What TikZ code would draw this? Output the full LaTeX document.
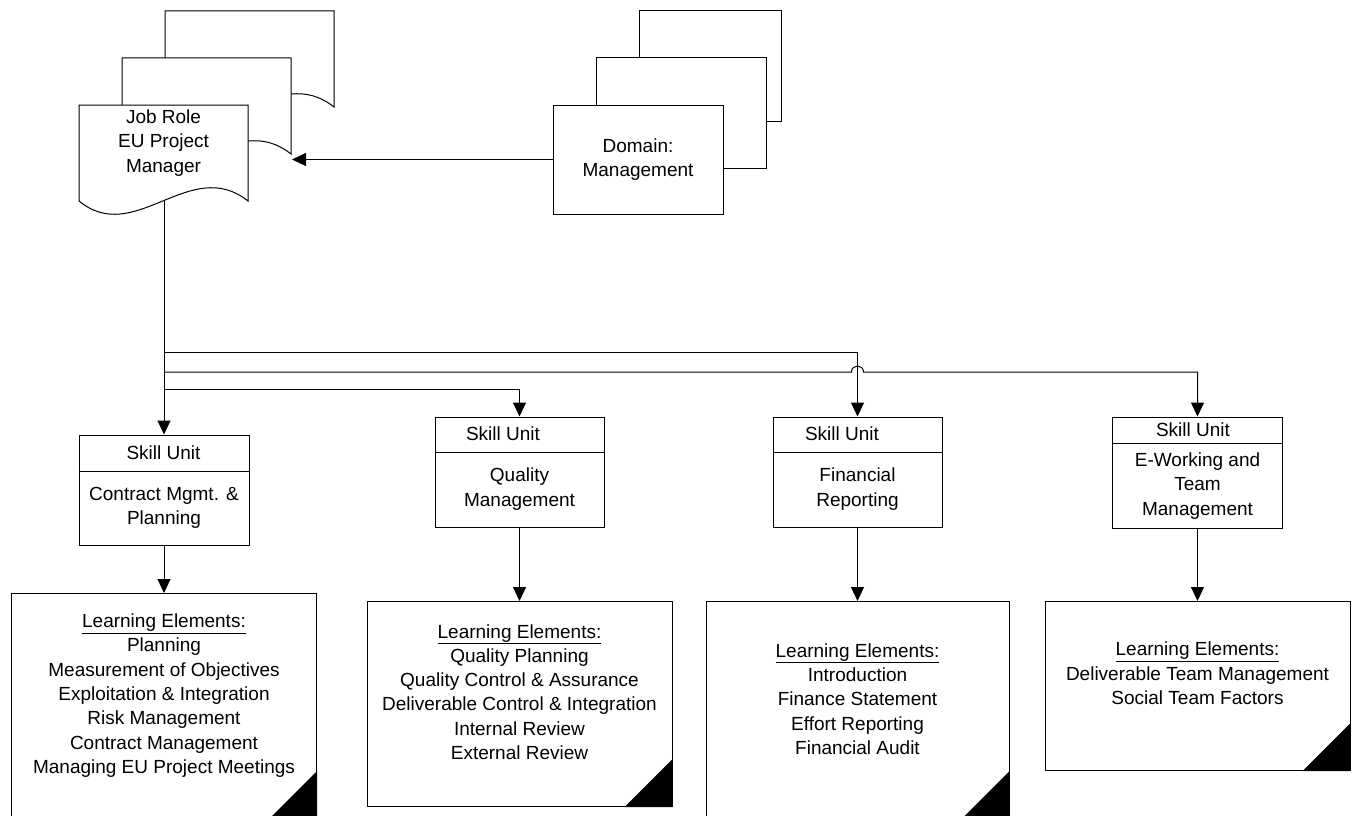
\documentclass[tikz,border=0pt]{standalone}
\usepackage{fontspec}
\setmainfont{Liberation Sans}
\usetikzlibrary{arrows.meta}
\begin{document}
\begin{tikzpicture}[x=1pt,y=-1pt,
  every node/.style={font=\fontsize{19}{24.3}\selectfont, align=center, inner sep=0pt},
  box/.style={draw, line width=1pt, fill=white},
  line/.style={line width=1pt},
  arr/.style={line width=1pt, -{Triangle[length=14pt,width=13pt]}},
  unitbox/.style={box, minimum width=170, minimum height=110},
  lebox/.style={box, anchor=north},
]
\useasboundingbox (0,0) rectangle (1357,816);

% job role: stacked document shapes
\foreach \dx/\dy in {86/-94, 43/-47, 0/0} {
  \begin{scope}[shift={(\dx,\dy)}]
    \draw[box] (79,105) -- (248,105) -- (248,201)
      .. controls (190,155) and (135,247) .. (79,201) -- cycle;
  \end{scope}
}
\node (job) at (164,153) [minimum width=169, minimum height=96] {};
\node (jobtxt) at (163.5,143) {Job Role\\EU Project\\Manager};
\coordinate (jobin) at (292,159.5);

% domain: stacked rectangles
\draw[box] (639,11) rectangle (781,121);
\draw[box] (596,58) rectangle (766,168);
\node[box, minimum width=170, minimum height=109] (dom) at (638,159.5) {Domain:\\Management};

\draw[arr] (dom.west) -- (jobin);

% skill units
\node[unitbox] (su1) at (164,490) {};
\node[unitbox, minimum width=169] (su2) at (519.5,472) {};
\node[unitbox, minimum width=169] (su3) at (857.5,472) {};
\node[unitbox, minimum height=111] (su4) at (1197.5,472.5) {};

\draw[line] (su1.west |- 0,471) -- (su1.east |- 0,471);
\draw[line] (su2.west |- 0,452) -- (su2.east |- 0,452);
\draw[line] (su3.west |- 0,452) -- (su3.east |- 0,452);
\draw[line] (su4.west |- 0,443) -- (su4.east |- 0,443);

\node (su1h) at (163.5,453) {Skill Unit};
\node (su1b) at (164,508) {Contract Mgmt. \&\\Planning};
\node (su2h) at (503,434) {Skill Unit};
\node (su2b) at (519.5,489) {Quality\\Management};
\node (su3h) at (842,434) {Skill Unit};
\node (su3b) at (857.5,489) {Financial\\Reporting};
\node (su4h) at (1193,430) {Skill Unit};
\node (su4b) at (1197.5,486) {E-Working and\\Team\\Management};

% branches from the trunk
\coordinate (b1) at (164,352);
\coordinate (b2) at (164,372);
\coordinate (b3) at (164,389);
\draw[arr] (job.south) -- (su1.north);
\draw[arr] (b1) -| (su3.north);
\draw[arr] (b3) -| (su2.north);
\coordinate (hopL) at ([xshift=-6pt]su3.north |- b2);
\coordinate (hopR) at ([xshift=6pt]su3.north |- b2);
\draw[arr] (b2) -- (hopL) .. controls ([yshift=8pt]hopL) and ([yshift=8pt]hopR) .. (hopR) -| (su4.north);

% learning elements
\node[lebox, minimum width=305, minimum height=225] (le1) at (164,593) {};
\node[lebox, minimum width=305, minimum height=205] (le2) at (519.5,601) {};
\node[lebox, minimum width=303, minimum height=217] (le3) at (857.5,601) {};
\node[lebox, minimum width=305, minimum height=169] (le4) at (1197.5,601) {};

\foreach \n in {le1,le2,le3,le4} {
  \fill ([yshift=48pt]\n.south east) -- (\n.south east) -- ([xshift=-48pt]\n.south east) -- cycle;
}

\node (le1t) at (164,695.5) {\underline{Learning Elements:}\\Planning\\Measurement of Objectives\\Exploitation \& Integration\\Risk Management\\Contract Management\\Managing EU Project Meetings};
\node (le2t) at (519.5,692) {\underline{Learning Elements:}\\Quality Planning\\Quality Control \& Assurance\\Deliverable Control \& Integration\\Internal Review\\External Review};
\node (le3t) at (857.5,699) {\underline{Learning Elements:}\\Introduction\\Finance Statement\\Effort Reporting\\Financial Audit};
\node (le4t) at (1197.5,673.5) {\underline{Learning Elements:}\\Deliverable Team Management\\Social Team Factors};

\draw[arr] (su1.south) -- (le1.north);
\draw[arr] (su2.south) -- (le2.north);
\draw[arr] (su3.south) -- (le3.north);
\draw[arr] (su4.south) -- (le4.north);
\end{tikzpicture}
\end{document}
